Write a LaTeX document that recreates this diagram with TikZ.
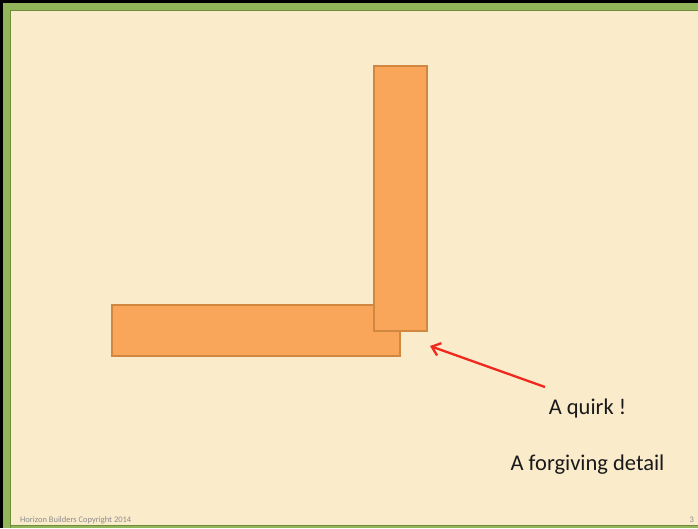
\documentclass[tikz,border=0pt]{standalone}
\usepackage{fontspec}
\setmainfont{Carlito}
\usetikzlibrary{arrows.meta,positioning}
\definecolor{paper}{HTML}{FAEBCB}
\definecolor{frame}{HTML}{93B55A}
\definecolor{framedark}{HTML}{6E8C3A}
\definecolor{plank}{HTML}{F9A65A}
\definecolor{plankedge}{HTML}{D08740}
\definecolor{pointer}{HTML}{F0281E}
\definecolor{footgray}{HTML}{8C8C8C}
\tikzset{
  plankbox/.style={draw=plankedge,fill=plank,line width=1.2pt,inner sep=0pt},
  caption/.style={font=\fontsize{22.5}{26}\selectfont,anchor=base,inner sep=0pt,text=black!90},
  footer/.style={font=\fontsize{8.5}{10}\selectfont\color{footgray},inner sep=0pt,anchor=base west}
}

\begin{document}
\begin{tikzpicture}[x=1pt,y=-1pt]
  \useasboundingbox (0,0) rectangle (698,528);
  % paper and frame
  \fill[paper] (0,0) rectangle (698,528);
  \fill[black] (0,0) rectangle (698,2.5);
  \fill[black] (0,0) rectangle (2.5,528);
  \fill[frame] (2.5,2.5) rectangle (698,10);
  \fill[frame] (2.5,2.5) rectangle (10,528);
  \fill[frame] (2.5,525) rectangle (698,528);
  \draw[framedark,line width=1pt] (10.5,528) -- (10.5,10.5) -- (698,10.5);
  \draw[framedark,line width=0.8pt] (10.5,525) -- (698,525);
  % the two planks
  \node[plankbox,minimum width=288,minimum height=51] (beam) at (256,330.5) {};
  \node[plankbox,minimum width=53,minimum height=265] (post) at (400.5,198.5) {};
  % labels
  \node[caption] (quirk) at (587.5,414) {A quirk !};
  \node[caption] (detail) at (587.5,470) {A forgiving detail};
  \coordinate (tail) at (545,387);
  \coordinate (tip) at (430,346);
  \draw[pointer,line width=2.3pt,-{Straight Barb[length=8pt,width=13pt]}] (tail) -- (tip);
  \node[footer] (copy) at (20,522) {Horizon Builders Copyright 2014};
  \node[footer] (page) at (689.5,522) {3};
\end{tikzpicture}
\end{document}
